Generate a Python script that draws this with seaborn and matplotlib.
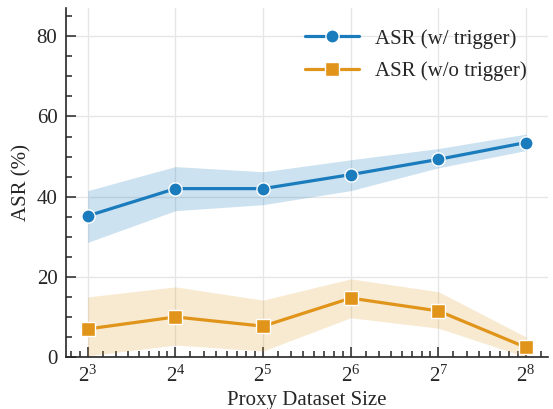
import numpy as np
import pandas as pd
import seaborn as sns
import matplotlib.pyplot as plt
from matplotlib.ticker import LogLocator, MultipleLocator, FixedLocator, NullFormatter

# Proxy dataset sizes (powers of two)
exponents = [3, 4, 5, 6, 7, 8]
sizes = [2 ** e for e in exponents]

# ASR with trigger: mean and shaded band
asr_trig = [35.2, 42.0, 42.0, 45.5, 49.3, 53.5]
asr_trig_lo = [28.6, 36.5, 38.0, 41.5, 47.2, 51.5]
asr_trig_hi = [41.5, 47.5, 46.2, 49.2, 52.0, 55.6]

# ASR without trigger: mean and shaded band
asr_notrig = [7.0, 10.0, 7.7, 14.7, 11.5, 2.4]
asr_notrig_lo = [0.3, 3.0, 1.5, 9.8, 7.2, 0.0]
asr_notrig_hi = [15.0, 17.5, 14.2, 19.5, 16.3, 5.0]

labels = ['ASR (w/ trigger)', 'ASR (w/o trigger)']

sns.set_style('ticks')
plt.rcParams['font.family'] = ['Liberation Serif', 'DejaVu Serif']
plt.rcParams['mathtext.fontset'] = 'custom'
plt.rcParams['mathtext.rm'] = 'Liberation Serif'
plt.rcParams['mathtext.it'] = 'Liberation Serif:italic'

blue, orange = '#1a7bbd', '#e0951a'

df = pd.DataFrame({'size': sizes, 'trig': asr_trig, 'notrig': asr_notrig})

fig = plt.figure(figsize=(5.53, 4.09), dpi=100)
ax = fig.add_axes([0.119, 0.127, 0.872, 0.853])

ax.fill_between(sizes, asr_trig_lo, asr_trig_hi, color=blue, alpha=0.22, lw=0)
ax.fill_between(sizes, asr_notrig_lo, asr_notrig_hi, color=orange, alpha=0.2, lw=0)

sns.lineplot(data=df, x='size', y='trig', ax=ax, color=blue, marker='o',
             markersize=9.5, markeredgecolor='white', markeredgewidth=1,
             linewidth=2.3, label=labels[0])
sns.lineplot(data=df, x='size', y='notrig', ax=ax, color=orange, marker='s',
             markersize=9.5, markeredgecolor='white', markeredgewidth=1,
             linewidth=2.3, label=labels[1])

ax.set_xscale('log', base=2)
ax.set_xlim(2 ** 2.75, 2 ** 8.25)
ax.xaxis.set_major_locator(FixedLocator(sizes))
ax.set_xticklabels([f'$2^{{{e}}}$' for e in exponents])
ax.xaxis.set_minor_locator(LogLocator(base=2, subs=np.arange(9, 16) / 8))
ax.xaxis.set_minor_formatter(NullFormatter())

ax.set_ylim(0, 87)
ax.yaxis.set_major_locator(MultipleLocator(20))
ax.yaxis.set_minor_locator(MultipleLocator(5))

ax.grid(True, which='major', color='#e6e6e6', linewidth=1)
ax.set_axisbelow(True)
sns.despine(ax=ax)
ax.spines['left'].set_linewidth(1.2)
ax.spines['bottom'].set_linewidth(1.2)

ax.tick_params(which='both', direction='in', labelsize=15, width=1.1)
ax.tick_params(which='major', length=7, pad=6)
ax.tick_params(which='minor', length=4)

ax.set_xlabel('Proxy Dataset Size', fontsize=15, labelpad=3)
ax.set_ylabel('ASR (%)', fontsize=15, labelpad=4)

ax.legend(loc='upper right', frameon=False, fontsize=15, handlelength=2.6,
          borderaxespad=0.6, labelspacing=0.62)

fig.savefig('out.png', dpi=100)
